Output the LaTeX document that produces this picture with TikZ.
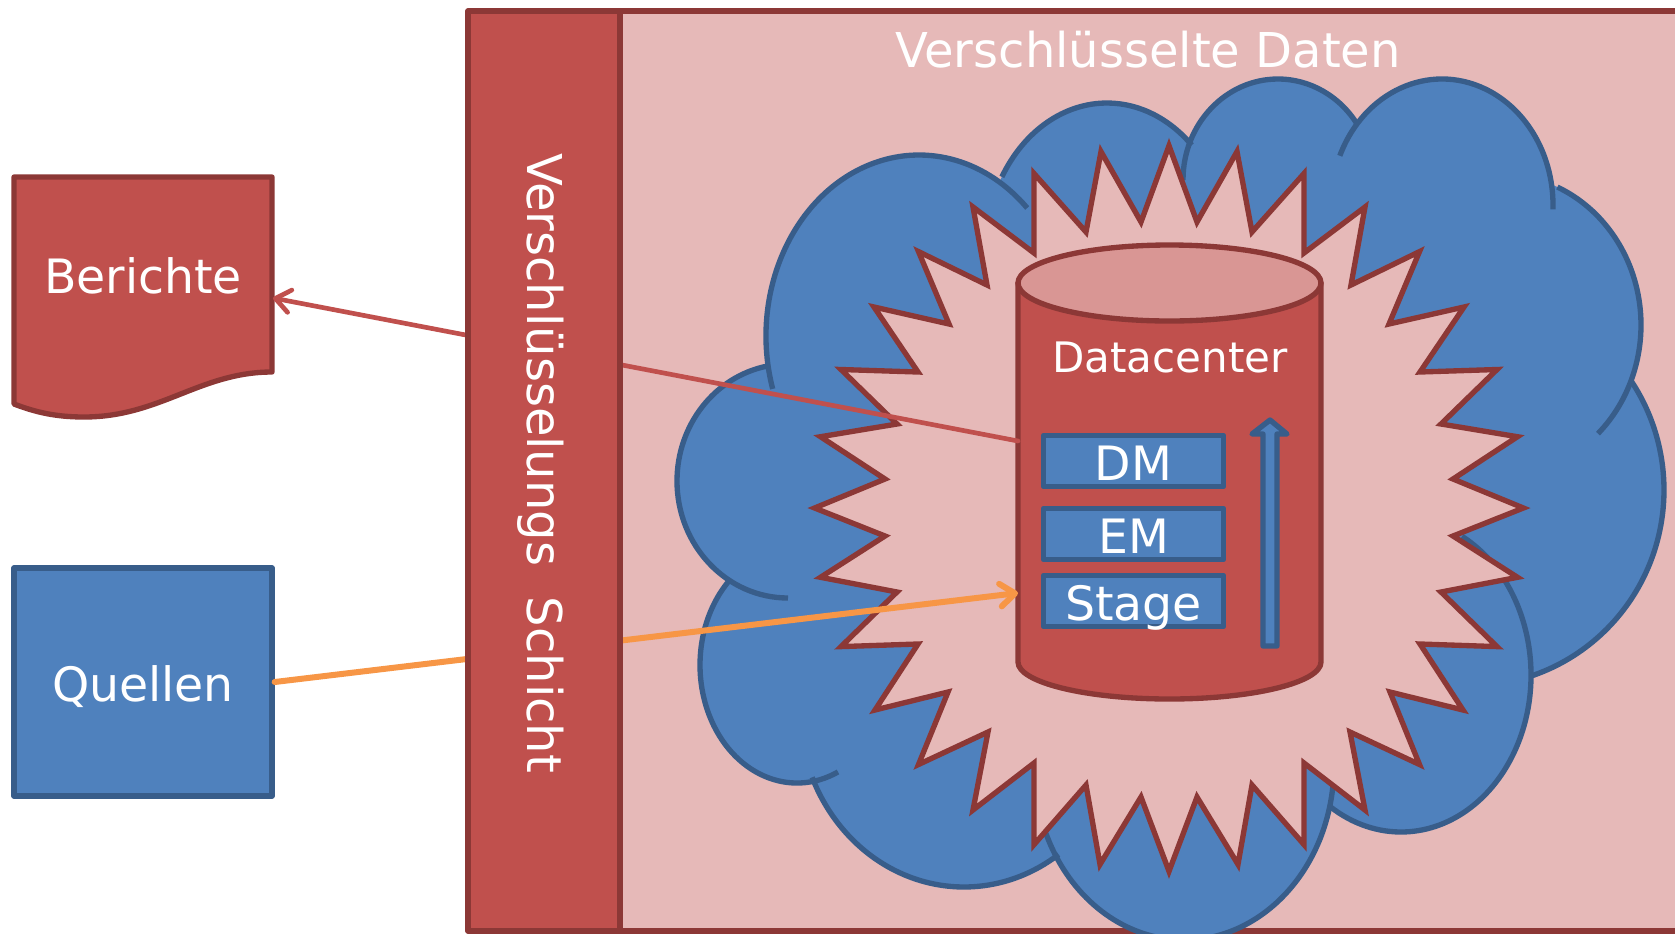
\documentclass[tikz,border=0pt]{standalone}
\usepackage{fontspec}
\setmainfont{DejaVu Sans}
\usetikzlibrary{arrows.meta}
\definecolor{rot}{HTML}{C0504D}
\definecolor{rotdunkel}{HTML}{8C3836}
\definecolor{rosa}{HTML}{E6B9B8}
\definecolor{rotdeckel}{HTML}{D99694}
\definecolor{blau}{HTML}{4F81BD}
\definecolor{blaudunkel}{HTML}{385D8A}
\definecolor{orange}{HTML}{F79646}
\tikzset{
	rotflaeche/.style={fill=rot,draw=rotdunkel,line width=4pt},
	blauflaeche/.style={fill=blau,draw=blaudunkel,line width=4pt},
	schrift/.style={text=white,font=\fontsize{35.5}{43}\selectfont},
	gross/.style={text=white,font=\fontsize{36}{43}\selectfont},
	schicht/.style={blauflaeche,schrift,inner sep=0pt,minimum width=135pt,minimum height=38.6pt,text height=28.5pt,text depth=0pt},
	pfeil/.style={-{Straight Barb[length=11pt,width=17pt,round]},line cap=round}
}
\begin{document}
\begin{tikzpicture}[x=0.75pt,y=-0.75pt,line join=round]
	\useasboundingbox (0,0) rectangle (1675,933);
	\clip (0,0) rectangle (1675,933);
	\path
	(1018,441) coordinate (dcaus)
	(1018,593) coordinate (dcein)
	(273,298) coordinate (berichterand);
	% rosa flaeche
	\draw[fill=rosa,draw=rotdunkel,line width=4pt] (620,11) rectangle (1700,931);
	% wolke
	\foreach \cx/\cy/\rx/\ry/\sa/\ea in {788/481/111/117/90/259,919/336/153/181/163/315,1107/253/122/150/210.5/314,1278/180/95/101/180/327,1442/205/111/126/203/362,1500/325/141/151/-66/46,1470/490/194/196/-33.5/72,1401/675/130/157/-62/123,1184/765/150/175/7/157,964/707/165/180/55/157,797/665/97/118/65/226}{
		\fill[blau] (\cx,\cy) ellipse [x radius=\rx, y radius=\ry];
	}
	\foreach \cx/\cy/\rx/\ry/\sa/\ea in {788/481/111/117/90/259,919/336/153/181/163/315,1107/253/122/150/210.5/314,1278/180/95/101/180/327,1442/205/111/126/203/362,1500/325/141/151/-66/46,1470/490/194/196/-33.5/72,1401/675/130/157/-62/123,1184/765/150/175/7/157,964/707/165/180/55/157,797/665/97/118/65/226}{
		\draw[blaudunkel,line width=4pt] ({\cx+\rx*cos(\sa)},{\cy+\ry*sin(\sa)}) arc [x radius=\rx, y radius=\ry, start angle=\sa, end angle=\ea];
	}
	% stern
	\draw[fill=rosa,draw=rotdunkel,line width=4pt,line join=miter,miter limit=20]
	(1169,145.7)--(1197,222)--(1237,151.6)--(1252,232)--(1304,173.5)--(1304,253)--(1365,207)--(1351,285)
	--(1419.5,251.6)--(1389,324)--(1464,307)--(1420,372)--(1497,369.5)--(1441,424)--(1517.5,436.7)--(1453,479)
	--(1523.4,508)--(1453,536)--(1517.5,577.3)--(1441,592)--(1497,646.6)--(1420,644)--(1463,710)--(1390,692)
	--(1419.5,764.5)--(1350,732)--(1365,810)--(1304,763)--(1304,844.6)--(1252,785)--(1238,864.4)--(1197,797)
	--(1169,871.3)--(1141,797)--(1100,864.4)--(1086,785)--(1034,844.6)--(1034,763)--(973,810)--(988,732)
	--(918.5,764.5)--(948,692)--(875,710)--(918,644)--(841,646.6)--(897,592)--(820.5,577.3)--(885,536)
	--(814.6,508)--(885,479)--(820.5,436.7)--(897,424)--(841,369.5)--(918,372)--(874,307)--(949,324)
	--(918.5,251.6)--(987,285)--(973,207)--(1034,253)--(1034,173.5)--(1086,232)--(1101,151.6)--(1141,222)--cycle;
	% zylinder
	\draw[rotflaeche] (1018,283)--(1018,662) arc [x radius=151.5, y radius=37, start angle=180, end angle=0]--(1321,283)--cycle;
	\draw[fill=rotdeckel,draw=rotdunkel,line width=4pt] (1169.5,283) ellipse [x radius=151.5, y radius=38];
	\node[text=white,font=\fontsize{31.5}{38}\selectfont] (datacenter) at (1170,357) {Datacenter};
	\node[schicht] (dm) at (1133.5,461) {DM};
	\node[schicht] (em) at (1133.5,534) {EM};
	\node[schicht] (stage) at (1133.5,601) {Stage};
	\draw[blauflaeche] (1270,420)--(1287,434)--(1277,434)--(1277,646)--(1263,646)--(1263,434)--(1252,434)--cycle;
	% quellen und berichte
	\draw[rotflaeche] (14,177)--(272,177)--(272,372) .. controls (200,372) and (160,417) .. (84,417) .. controls (55,417) and (35,412) .. (14,404)--cycle;
	\node[schrift] (berichte) at (143,276) {Berichte};
	\node[blauflaeche,schrift,minimum width=193.5pt,minimum height=171pt,inner sep=0pt,text height=28.5pt,text depth=0pt] (quellen) at (143,682) {Quellen};
	% pfeile
	\draw[pfeil,rot,line width=3.5pt] (dcaus)--(berichterand);
	\draw[pfeil,orange,line width=4.5pt] (quellen.east)--(dcein);
	% schicht
	\draw[rotflaeche] (468,11) rectangle (620,931);
	\node[gross,rotate=-90] (verschl) at (541,463) {Verschlüsselungs~~Schicht};
	\node[gross] (titel) at (1148,50) {Verschlüsselte Daten};
\end{tikzpicture}
\end{document}
